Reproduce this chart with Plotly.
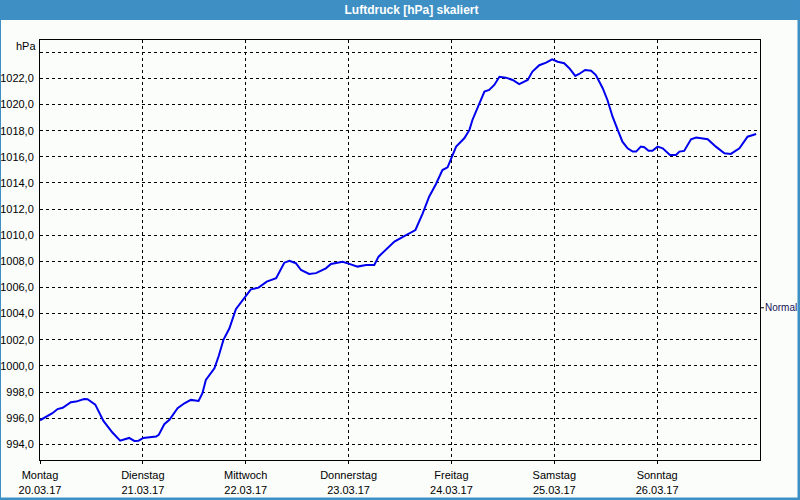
import pandas as pd
import plotly.graph_objects as go

# ---- data ----
hours = [0.0, 2.9, 4.1, 5.3, 7.2, 8.4, 10.3, 11.1, 12.9, 14.8, 16.9, 18.7, 20.8, 22.0, 23.0,
         24.1, 27.1, 27.7, 29.0, 30.2, 32.1, 33.7, 35.2, 37.0, 37.9, 38.7, 40.7, 41.7, 42.8,
         44.2, 45.7, 48.1, 49.2, 51.0, 52.9, 55.1, 57.0, 58.2, 59.7, 60.9, 62.8, 64.4, 66.7,
         67.9, 70.6, 72.0, 74.1, 76.1, 78.0, 79.0, 80.7, 82.7, 85.0, 87.6, 89.3, 90.8, 92.4,
         93.9, 95.1, 95.9, 97.1, 99.0, 100.2, 100.9, 102.5, 103.7, 104.8, 106.0, 107.2, 108.7,
         110.3, 111.8, 113.8, 114.9, 116.5, 118.1, 119.5, 120.8, 122.3, 123.5, 124.9, 125.8,
         127.2, 128.6, 129.7, 131.3, 132.4, 133.6, 134.8, 135.9, 137.1, 138.3, 139.1, 140.2,
         141.0, 142.0, 142.9, 144.1, 145.3, 147.0, 148.4, 149.2, 150.3, 151.9, 153.1, 155.8,
         157.7, 159.7, 161.2, 163.2, 165.1, 167.1]
pressure = [995.84, 996.38, 996.70, 996.80, 997.22, 997.27, 997.47, 997.45, 997.04, 995.79,
            994.90, 994.28, 994.49, 994.26, 994.28, 994.49, 994.59, 994.72, 995.54, 995.87,
            996.76, 997.14, 997.40, 997.32, 997.91, 998.93, 999.82, 1000.76, 1001.99, 1002.88,
            1004.34, 1005.35, 1005.86, 1005.99, 1006.45, 1006.71, 1007.90, 1008.05, 1007.86,
            1007.34, 1007.04, 1007.10, 1007.47, 1007.80, 1007.96, 1007.83, 1007.60, 1007.73,
            1007.73, 1008.36, 1008.87, 1009.51, 1009.94, 1010.40, 1011.68, 1012.95, 1013.92,
            1014.99, 1015.20, 1015.89, 1016.78, 1017.42, 1018.06, 1018.82, 1020.10, 1020.99,
            1021.12, 1021.50, 1022.13, 1022.06, 1021.88, 1021.57, 1021.88, 1022.52, 1023.01,
            1023.21, 1023.46, 1023.28, 1023.16, 1022.78, 1022.19, 1022.34, 1022.65, 1022.59,
            1022.26, 1021.25, 1020.35, 1019.07, 1018.06, 1017.16, 1016.65, 1016.40, 1016.40,
            1016.78, 1016.73, 1016.47, 1016.47, 1016.78, 1016.65, 1016.14, 1016.14, 1016.40,
            1016.45, 1017.34, 1017.47, 1017.34, 1016.78, 1016.27, 1016.22, 1016.65, 1017.54,
            1017.75]

day_names = ["Montag", "Dienstag", "Mittwoch", "Donnerstag", "Freitag", "Samstag", "Sonntag"]
day_dates = ["20.03.17", "21.03.17", "22.03.17", "23.03.17", "24.03.17", "25.03.17", "26.03.17"]
day_starts = ["2017-03-20", "2017-03-21", "2017-03-22", "2017-03-23", "2017-03-24",
              "2017-03-25", "2017-03-26"]
y_ticks = [994, 996, 998, 1000, 1002, 1004, 1006, 1008, 1010, 1012, 1014, 1016, 1018,
           1020, 1022, 1024]
y_labels = ["994,0", "996,0", "998,0", "1000,0", "1002,0", "1004,0", "1006,0", "1008,0",
            "1010,0", "1012,0", "1014,0", "1016,0", "1018,0", "1020,0", "1022,0", ""]
normal_value = 1004.45
y_range = [992.8, 1024.94]
x_range = ["2017-03-20", "2017-03-27"]

title_text = "Luftdruck [hPa] skaliert"
unit_text = "hPa"

# ---- figure ----
base = pd.Timestamp("2017-03-20")
times = [base + pd.Timedelta(hours=h) for h in hours]

BG = "#fbfdfb"
BLUE_BAR = "#3d8fc4"
FONT = "Liberation Sans"

W, H = 800, 500
ML, MR, MT, MB = 40, 40, 40, 40
PW, PH = W - ML - MR, H - MT - MB


def px_x(px):
    return (px - ML) / PW


def px_y(py):
    return (H - MB - py) / PH


fig = go.Figure()
fig.add_trace(go.Scatter(
    x=times, y=pressure, mode="lines",
    line=dict(color="#0000ee", width=2),
    hoverinfo="skip", showlegend=False,
))

fig.update_layout(
    width=W, height=H,
    margin=dict(l=ML, r=MR, t=MT, b=MB, pad=0, autoexpand=False),
    paper_bgcolor=BG, plot_bgcolor=BG,
    font=dict(family=FONT, size=11, color="#000000"),
    title=dict(text="<b>" + title_text + "</b>", x=411.5 / W, xanchor="center",
               y=1 - 10 / H, yanchor="middle", automargin=False,
               font=dict(family=FONT, size=12, color="#ffffff")),
    showlegend=False,
)

fig.update_xaxes(
    type="date", range=x_range, automargin=False,
    tickmode="array", tickvals=day_starts,
    ticktext=[n + "<br>" + d for n, d in zip(day_names, day_dates)],
    ticks="outside", ticklen=3, tickcolor="#000000", tickwidth=1,
    showgrid=True, gridcolor="#000000", gridwidth=1, griddash="3px,3px",
    showline=True, linecolor="#000000", linewidth=1, mirror=True,
    zeroline=False, tickfont=dict(size=11, color="#000000"),
    ticklabelstandoff=2,
)
fig.update_yaxes(
    range=y_range, automargin=False,
    tickmode="array", tickvals=y_ticks, ticktext=y_labels,
    ticks="", showgrid=True, gridcolor="#000000", gridwidth=1, griddash="3px,3px",
    showline=True, linecolor="#000000", linewidth=1, mirror=True,
    zeroline=False, tickfont=dict(size=11, color="#000000"),
    ticklabelstandoff=3,
)

shapes = [
    # title bar
    dict(type="rect", xref="paper", yref="paper", x0=px_x(-2), x1=px_x(802),
         y0=px_y(20), y1=px_y(-2), fillcolor=BLUE_BAR, line=dict(width=0), layer="below"),
    # frame (left, right, bottom)
    dict(type="rect", xref="paper", yref="paper", x0=px_x(-2), x1=px_x(1),
         y0=px_y(502), y1=px_y(-2), fillcolor=BLUE_BAR, line=dict(width=0)),
    dict(type="rect", xref="paper", yref="paper", x0=px_x(797.5), x1=px_x(802),
         y0=px_y(502), y1=px_y(-2), fillcolor=BLUE_BAR, line=dict(width=0)),
    dict(type="rect", xref="paper", yref="paper", x0=px_x(-2), x1=px_x(802),
         y0=px_y(502), y1=px_y(497.5), fillcolor=BLUE_BAR, line=dict(width=0)),
    # normal tick
    dict(type="line", xref="paper", yref="paper", x0=1, x1=px_x(764),
         y0=(normal_value - y_range[0]) / (y_range[1] - y_range[0]),
         y1=(normal_value - y_range[0]) / (y_range[1] - y_range[0]),
         line=dict(color="#000000", width=1)),
]
fig.update_layout(shapes=shapes)

fig.add_annotation(x=px_x(763), xref="paper", y=normal_value, yref="y",
                   text="Normal", showarrow=False, xanchor="left", yanchor="middle",
                   font=dict(family=FONT, size=10, color="#15155a"))
fig.add_annotation(x=px_x(37.5), xref="paper", y=px_y(46), yref="paper",
                   text=unit_text, showarrow=False, xanchor="right", yanchor="middle",
                   font=dict(family=FONT, size=11, color="#000000"))

fig.write_html("out.html")
